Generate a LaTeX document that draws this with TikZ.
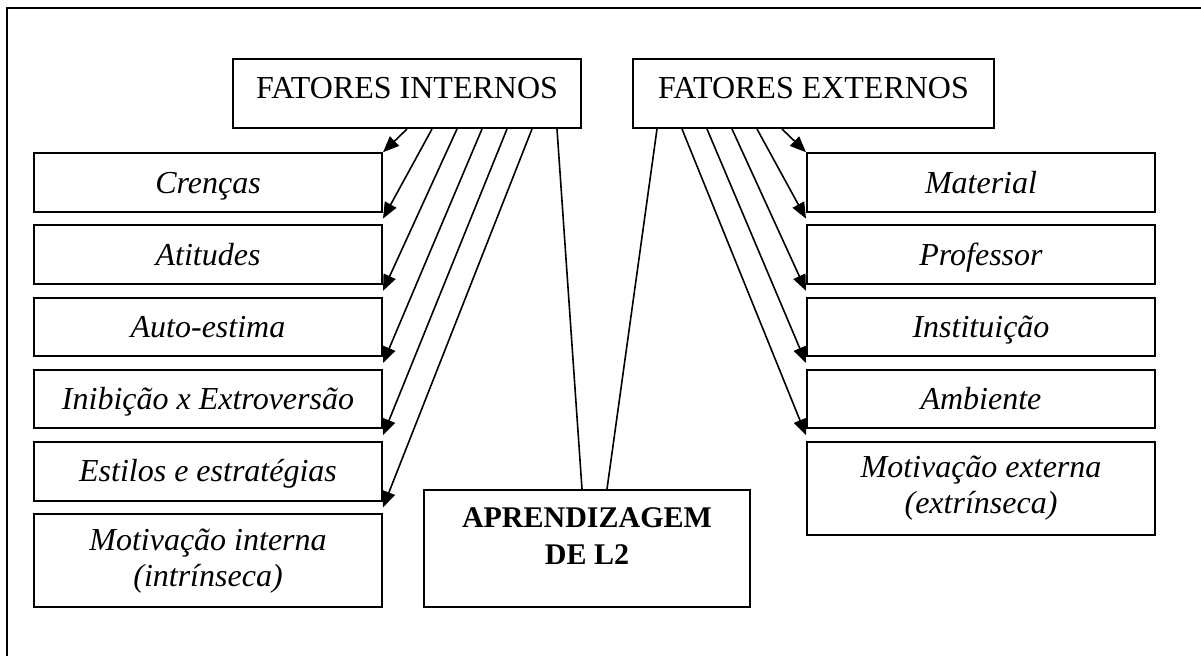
\documentclass[tikz,border=0pt]{standalone}
\usepackage{fontspec}
\setmainfont{Liberation Serif}
\usepackage{tikz}
\usetikzlibrary{positioning, arrows.meta, calc}
\tikzset{
    fator_box/.style={
        draw=black,
        line width=1pt,
        minimum width=174pt,
        minimum height=34.5pt,
        inner sep=0pt,
        text height=11pt,
        text depth=6pt,
        font=\fontsize{16}{18}\selectfont
    },
    item_box/.style={
        draw=black,
        line width=1pt,
        minimum width=174pt,
        minimum height=29.3pt,
        inner sep=0pt,
        font=\fontsize{16}{18}\selectfont\itshape
    },
    item_line/.style={
        item_box,
        text height=12pt,
        text depth=1.4pt
    },
    item_tall/.style={
        item_box,
        align=center,
        minimum height=46.5pt
    },
    aprend_box/.style={
        draw=black,
        line width=1pt,
        minimum width=163pt,
        minimum height=58.5pt
    },
    aprend_text/.style={
        align=center,
        inner sep=0pt,
        font=\fontsize{15}{18.5}\selectfont\bfseries
    },
    fator_edge/.style={
        draw=black,
        line width=0.8pt,
        -{Triangle[length=8pt,width=6.5pt]}
    },
    fator_line/.style={
        draw=black,
        line width=0.8pt
    }
}
\begin{document}
\begin{tikzpicture}[x=0.5pt, y=-0.5pt]
    \useasboundingbox (0,0) rectangle (1201,655);
    \clip (0,0) rectangle (1201,655);
    \draw[line width=0.9pt] (7,8) rectangle (1230,690);

    \node[fator_box] (fi) at (407,93.5) {FATORES INTERNOS};
    \node[fator_box, minimum width=180.5pt, right=25pt of fi] (fe) {FATORES EXTERNOS};

    \node[item_line] (crencas) at (208,182.5) {Crenças};
    \node[item_line, below=5.8pt of crencas] (atitudes) {Atitudes};
    \node[item_line, below=5.8pt of atitudes] (autoestima) {Auto-estima};
    \node[item_line, below=5.8pt of autoestima] (inibicao) {Inibição x Extroversão};
    \node[item_line, below=5.8pt of inibicao] (estilos) {Estilos e estratégias};
    \node[item_tall, below=5.8pt of estilos] (motint) {Motivação interna\\(intrínseca)};

    \node[item_line] (material) at (981,182.5) {Material};
    \node[item_line, below=5.8pt of material] (professor) {Professor};
    \node[item_line, below=5.8pt of professor] (instituicao) {Instituição};
    \node[item_line, below=5.8pt of instituicao] (ambiente) {Ambiente};
    \node[item_tall, below=5.8pt of ambiente] (motext) {Motivação externa\\(extrínseca)};

    \node[aprend_box] (aprend) at (587,548.5) {};
    \node[aprend_text] (aprendtxt) at ([yshift=6pt]aprend.center) {APRENDIZAGEM\\DE L2};

    \path
        (fi.south) edge[fator_edge] (crencas.north east)
        ($(fi.south)+(25,0)$) edge[fator_edge] ($(crencas.south east)!.5!(atitudes.north east)$)
        ($(fi.south)+(50,0)$) edge[fator_edge] ($(atitudes.south east)!.5!(autoestima.north east)$)
        ($(fi.south)+(75,0)$) edge[fator_edge] ($(autoestima.south east)!.5!(inibicao.north east)$)
        ($(fi.south)+(100,0)$) edge[fator_edge] ($(inibicao.south east)!.5!(estilos.north east)$)
        ($(fi.south)+(125,0)$) edge[fator_edge] ($(estilos.south east)!.5!(motint.north east)$);

    \path
        ($(fe.south west)+(150,0)$) edge[fator_edge] (material.north west)
        ($(fe.south west)+(125,0)$) edge[fator_edge] ($(material.south west)!.5!(professor.north west)$)
        ($(fe.south west)+(100,0)$) edge[fator_edge] ($(professor.south west)!.5!(instituicao.north west)$)
        ($(fe.south west)+(75,0)$) edge[fator_edge] ($(instituicao.south west)!.5!(ambiente.north west)$)
        ($(fe.south west)+(50,0)$) edge[fator_edge] ($(ambiente.south west)!.5!(motext.north west)$);

    \draw[fator_line] ($(fi.south)+(150,0)$) -- ($(aprend.north)+(-5,0)$);
    \draw[fator_line] ($(fe.south west)+(25,0)$) -- ($(aprend.north)+(20,0)$);
\end{tikzpicture}
\end{document}
